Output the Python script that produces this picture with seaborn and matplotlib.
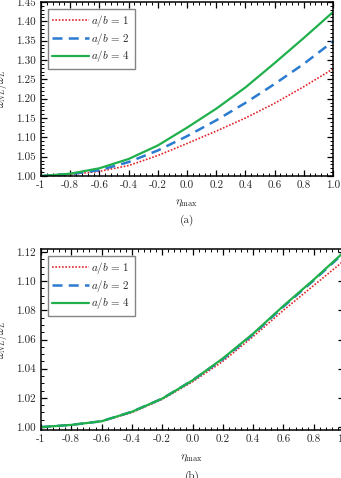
import numpy as np
import pandas as pd
import matplotlib
matplotlib.use("Agg")
import matplotlib.pyplot as plt
import seaborn as sns
from matplotlib.ticker import AutoMinorLocator

# ---------------------------------------------------------
# data
# ---------------------------------------------------------
eta = [-1.0, -0.8, -0.6, -0.4, -0.2, 0.0, 0.2, 0.4, 0.6, 0.8, 1.0]

# panel (a)
a_ab1 = [1.000, 1.004, 1.012, 1.027, 1.053, 1.084, 1.116, 1.150, 1.188, 1.231, 1.277]
a_ab2 = [1.000, 1.005, 1.015, 1.036, 1.066, 1.103, 1.144, 1.189, 1.238, 1.290, 1.348]
a_ab4 = [1.000, 1.006, 1.020, 1.044, 1.079, 1.125, 1.174, 1.229, 1.292, 1.357, 1.424]

# panel (b)
b_ab1 = [1.000, 1.0015, 1.004, 1.010, 1.019, 1.031, 1.045, 1.062, 1.080, 1.097, 1.114]
b_ab2 = [1.000, 1.0015, 1.004, 1.0105, 1.0195, 1.032, 1.0465, 1.0635, 1.0825, 1.1005, 1.1195]
b_ab4 = [1.000, 1.0015, 1.004, 1.0105, 1.0195, 1.032, 1.047, 1.064, 1.083, 1.101, 1.120]

labels = [r"$a/b\,=\,1$", r"$a/b\,=\,2$", r"$a/b\,=\,4$"]

x_ticks = [-1.0, -0.8, -0.6, -0.4, -0.2, 0.0, 0.2, 0.4, 0.6, 0.8, 1.0]
x_ticklabels = ["-1", "-0.8", "-0.6", "-0.4", "-0.2", "0.0", "0.2", "0.4", "0.6", "0.8", "1.0"]
ya_ticks = [1.00, 1.05, 1.10, 1.15, 1.20, 1.25, 1.30, 1.35, 1.40, 1.45]
yb_ticks = [1.00, 1.02, 1.04, 1.06, 1.08, 1.10, 1.12]

# ---------------------------------------------------------
# style
# ---------------------------------------------------------
sns.set_style("ticks")
plt.rcParams["font.family"] = ["cmr10", "DejaVu Serif"]
plt.rcParams["mathtext.fontset"] = "cm"
plt.rcParams["axes.unicode_minus"] = False
plt.rcParams["font.size"] = 8

COLORS = ["#e0262c", "#2b7bd0", "#1fb04c"]
STYLES = [(0, (1, 1)), (0, (4, 2.5)), "-"]
WIDTHS = [1.2, 1.8, 1.6]


def draw_panel(ax, series, yticks, ylim, ylab_x, yminor):
    for vals, lab, c, ls, lw in zip(series, labels, COLORS, STYLES, WIDTHS):
        sns.lineplot(x=eta, y=vals, ax=ax, color=c, linestyle=ls,
                     linewidth=lw, label=lab)
    ax.set_xlim(-1, 1)
    ax.set_ylim(*ylim)
    ax.set_xticks(x_ticks, labels=x_ticklabels)
    ax.set_yticks(yticks, labels=[f"{v:.2f}" for v in yticks])
    ax.xaxis.set_minor_locator(AutoMinorLocator(5))
    ax.yaxis.set_minor_locator(AutoMinorLocator(yminor))
    ax.tick_params(which="both", direction="in", top=True, right=True,
                   color="black", labelsize=8, pad=3.5)
    ax.tick_params(which="major", length=4, width=0.9)
    ax.tick_params(which="minor", length=2.5, width=0.7)
    for s in ax.spines.values():
        s.set_color("black")
        s.set_linewidth(1.1)
    ax.set_xlabel("")
    ax.set_ylabel(r"$\omega_{NL}/\omega_L$", fontsize=8)
    ax.yaxis.set_label_coords(ylab_x, 0.5)
    leg = ax.legend(loc="upper left", frameon=True, fancybox=False,
                    edgecolor="#666666", fontsize=8, handlelength=3.3,
                    handletextpad=0.2, labelspacing=0.15, borderpad=0.4,
                    borderaxespad=0.6)
    leg.get_frame().set_linewidth(1.0)


fig = plt.figure(figsize=(3.41, 4.78), dpi=100)
W, H = 341.0, 478.0

ax_a = fig.add_axes([41 / W, (H - 176) / H, 292 / W, 174 / H])
draw_panel(ax_a, [a_ab1, a_ab2, a_ab4], ya_ticks, (1.0, 1.45), -32 / 292, 5)

ax_b = fig.add_axes([41 / W, (H - 430) / H, 303 / W, 181 / H])
draw_panel(ax_b, [b_ab1, b_ab2, b_ab4], yb_ticks, (0.998, 1.122), -32 / 303, 4)

fig.text(187 / W, 1 - 203 / H, r"$\eta_{\max}$", ha="center", va="center", fontsize=8.5)
fig.text(187 / W, 1 - 220 / H, "(a)", ha="center", va="center", fontsize=8)
fig.text(192 / W, 1 - 458 / H, r"$\eta_{\max}$", ha="center", va="center", fontsize=8.5)
fig.text(192 / W, 1 - 476 / H, "(b)", ha="center", va="center", fontsize=8)

fig.savefig("out.png", dpi=100)
